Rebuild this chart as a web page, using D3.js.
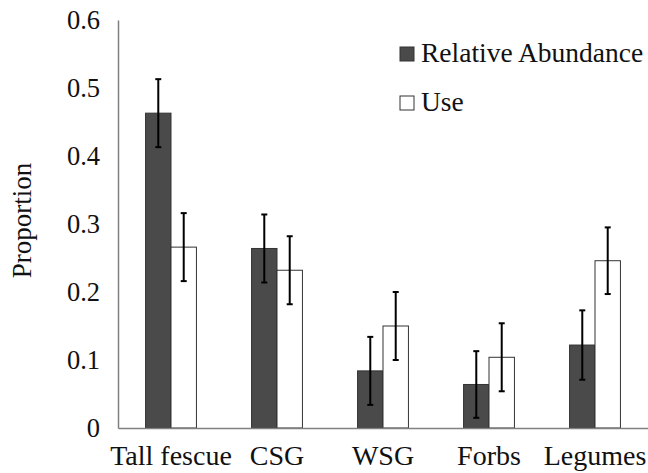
<!DOCTYPE html>
<html>
<head>
<meta charset="utf-8">
<script src="https://cdn.jsdelivr.net/npm/d3@7"></script>
<style>
html,body{margin:0;padding:0;background:#fff;}
svg{display:block;}
</style>
</head>
<body>
<svg id="chart" width="648" height="473"></svg>
<script>
const categories = ["Tall fescue", "CSG", "WSG", "Forbs", "Legumes"];
const seriesNames = ["Relative Abundance", "Use"];
const relAbundance = [0.463, 0.264, 0.084, 0.064, 0.122];
const relAbundanceErr = [0.050, 0.050, 0.050, 0.049, 0.051];
const useValues = [0.266, 0.232, 0.150, 0.104, 0.246];
const useErr = [0.050, 0.050, 0.050, 0.050, 0.049];
const yTicks = [0, 0.1, 0.2, 0.3, 0.4, 0.5, 0.6];

(function(){
const FONT = "Liberation Serif, Times New Roman, serif";
const svg = d3.select("#chart").attr("font-family", FONT);
const mLeft = 118, mRight = 648, mTop = 20, mBottom = 428;

const x = d3.scaleBand().domain(categories).range([mLeft, mRight]).paddingInner(0.52).paddingOuter(0.26);
const xs = d3.scaleBand().domain(seriesNames).range([0, x.bandwidth()]);
const y = d3.scaleLinear().domain([0, 0.6]).range([mBottom, mTop]);

const colors = {"Relative Abundance": "#4a4a4a", "Use": "#ffffff"};

const data = categories.map((c, i) => ({
  cat: c,
  vals: [
    {s: seriesNames[0], v: relAbundance[i], e: relAbundanceErr[i]},
    {s: seriesNames[1], v: useValues[i], e: useErr[i]}
  ]
}));

const g = svg.append("g");
const groups = g.selectAll("g.grp").data(data).enter().append("g")
  .attr("transform", d => `translate(${x(d.cat)},0)`);

groups.selectAll("rect").data(d => d.vals).enter().append("rect")
  .attr("x", d => xs(d.s))
  .attr("y", d => y(d.v))
  .attr("width", xs.bandwidth())
  .attr("height", d => y(0) - y(d.v))
  .attr("fill", d => colors[d.s])
  .attr("stroke", "#333")
  .attr("stroke-width", 1);

// error bars
const eb = groups.selectAll("g.eb").data(d => d.vals).enter().append("g");
eb.append("line")
  .attr("x1", d => xs(d.s) + xs.bandwidth()/2)
  .attr("x2", d => xs(d.s) + xs.bandwidth()/2)
  .attr("y1", d => y(d.v + d.e))
  .attr("y2", d => y(d.v - d.e))
  .attr("stroke", "#000").attr("stroke-width", 2);
[1, -1].forEach(sg => {
  eb.append("line")
    .attr("x1", d => xs(d.s) + xs.bandwidth()/2 - 3)
    .attr("x2", d => xs(d.s) + xs.bandwidth()/2 + 3)
    .attr("y1", d => y(d.v + sg*d.e))
    .attr("y2", d => y(d.v + sg*d.e))
    .attr("stroke", "#000").attr("stroke-width", 2);
});

// axes
const yAxis = d3.axisLeft(y).tickValues(yTicks).tickSize(0).tickPadding(18)
  .tickFormat(d => d === 0 ? "0" : d3.format(".1f")(d));
const ya = svg.append("g").attr("transform", `translate(${mLeft},0)`).call(yAxis)
  .attr("font-family", FONT).attr("font-size", 26.5);
ya.select(".domain").attr("stroke", "#808080").attr("stroke-width", 1.5);
ya.selectAll("text").attr("fill", "#111");

const xAxis = d3.axisBottom(x).tickSize(0).tickPadding(29);
const xa = svg.append("g").attr("transform", `translate(0,${mBottom})`).call(xAxis)
  .attr("font-family", FONT).attr("font-size", 28);
xa.select(".domain").attr("stroke", "#808080").attr("stroke-width", 1.5);
xa.selectAll("text").attr("fill", "#111").attr("dy", "0.3em");

// y label
svg.append("text")
  .attr("transform", `translate(31,${(162+279)/2}) rotate(-90)`)
  .attr("text-anchor", "middle")
  .attr("font-family", FONT)
  .attr("font-size", 27)
  .attr("fill", "#111")
  .text("Proportion");

// legend
const legend = svg.append("g").attr("font-family", FONT).attr("font-size", 27.5);
seriesNames.forEach((s, i) => {
  const ly = 47 + i*49;
  legend.append("rect").attr("x", 400).attr("y", ly).attr("width", 14).attr("height", 14)
    .attr("fill", colors[s]).attr("stroke", "#333").attr("stroke-width", 1);
  legend.append("text").attr("x", 421).attr("y", ly + 15).attr("fill", "#111").text(s);
});
})();
</script>
</body>
</html>
